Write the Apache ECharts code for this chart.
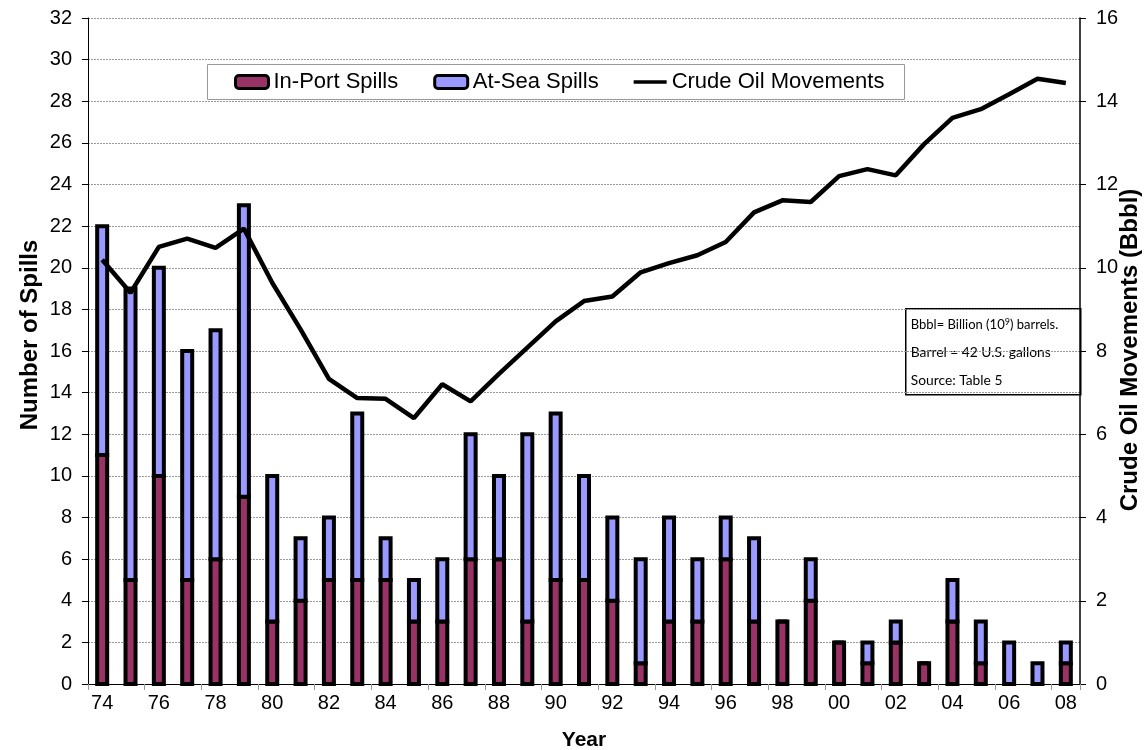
<!DOCTYPE html>
<html>
<head>
<meta charset="utf-8">
<script src="https://cdn.jsdelivr.net/npm/echarts@6/dist/echarts.min.js"></script>
<style>
  html, body { margin: 0; padding: 0; background: #fff; }
  #root { width: 1146px; height: 750px; }
</style>
</head>
<body>
<div id="root"></div>
<script>
// data
var years = ['74', '75', '76', '77', '78', '79', '80', '81', '82', '83', '84', '85',
  '86', '87', '88', '89', '90', '91', '92', '93', '94', '95', '96', '97', '98', '99',
  '00', '01', '02', '03', '04', '05', '06', '07', '08']
var inPort = [11, 5, 10, 5, 6, 9, 3, 4, 5, 5, 5, 3, 3, 6, 6, 3, 5, 5, 4, 1, 3, 3, 6, 3,
  3, 4, 2, 1, 2, 1, 3, 1, 0, 0, 1]
var atSea = [11, 14, 10, 11, 11, 14, 7, 3, 3, 8, 2, 2, 3, 6, 4, 9, 8, 5, 4, 5, 5, 3, 2, 4,
  0, 2, 0, 1, 1, 0, 2, 2, 2, 1, 1]
var crudeMoves = [10.19, 9.4, 10.5, 10.7, 10.48, 10.94, 9.64, 8.52, 7.33, 6.87, 6.85, 6.39,
  7.2, 6.79, 7.45, 8.08, 8.71, 9.2, 9.31, 9.89, 10.11, 10.3, 10.62, 11.33, 11.62, 11.58,
  12.2, 12.37, 12.22, 12.97, 13.6, 13.81, 14.17, 14.54, 14.44]

// stacked segments as [index, bottom, top]
var inPortSeg = inPort.map(function (v, i) { return [i, 0, v] })
var atSeaSeg = atSea.map(function (v, i) { return [i, inPort[i], inPort[i] + v] })

var chart = echarts.init(document.getElementById('root'))

var font = 'Liberation Sans, Arial, sans-serif'
var noteFont = 'Lato, Open Sans, sans-serif'

// bar segment with the outline centred on its edge (like the spreadsheet chart)
function segment (color) {
  return function (params, api) {
    var lo = api.coord([api.value(0), api.value(1)])
    var hi = api.coord([api.value(0), api.value(2)])
    var w = 10
    return {
      type: 'rect',
      shape: { x: lo[0] - w / 2, y: hi[1], width: w, height: lo[1] - hi[1] },
      style: { fill: color, stroke: '#000', lineWidth: 4 }
    }
  }
}

var option = {
  animation: false,
  textStyle: { fontFamily: font, color: '#000' },
  grid: { left: 88, right: 66, top: 18, bottom: 66, outerBoundsMode: 'none', containLabel: false },
  legend: {
    left: 234,
    top: 71,
    padding: 0,
    itemGap: 35,
    itemWidth: 33,
    itemHeight: 13,
    textStyle: { fontSize: 22, fontFamily: font, color: '#000' },
    data: [
      { name: 'In-Port Spills', itemStyle: { borderWidth: 3, borderColor: '#000' } },
      { name: 'At-Sea Spills', itemStyle: { borderWidth: 3, borderColor: '#000' } },
      { name: 'Crude Oil Movements', icon: 'path://M0,0 L0,0.01 M0,4.5 L38,4.5 L38,8.5 L0,8.5 Z M38,13 L38,12.99' }
    ]
  },
  xAxis: {
    type: 'category',
    data: years,
    name: 'Year',
    nameLocation: 'middle',
    nameGap: 46,
    nameTextStyle: { fontSize: 21, fontWeight: 'bold', fontFamily: font },
    axisLine: { lineStyle: { color: '#000', width: 1 } },
    axisTick: { show: true, length: 6, lineStyle: { color: '#999' } },
    axisLabel: { interval: 1, fontSize: 20, margin: 9, color: '#000' }
  },
  yAxis: [{
    type: 'value',
    min: 0,
    max: 32,
    interval: 2,
    axisLine: { show: true, lineStyle: { color: '#000', width: 1 } },
    axisTick: { show: true, length: 6, lineStyle: { color: '#000' } },
    axisLabel: { fontSize: 20, margin: 16, color: '#000' },
    splitLine: { lineStyle: { color: '#999', type: [2, 1], width: 1 } }
  }, {
    type: 'value',
    min: 0,
    max: 16,
    interval: 2,
    axisLine: { show: true, lineStyle: { color: '#000', width: 1.5 } },
    axisTick: { show: true, length: 6, lineStyle: { color: '#000' } },
    axisLabel: { fontSize: 20, margin: 16, color: '#000' },
    splitLine: { show: false }
  }],
  series: [{
    name: 'In-Port Spills',
    type: 'custom',
    renderItem: segment('#993366'),
    encode: { x: 0, y: [1, 2] },
    data: inPortSeg,
    itemStyle: { color: '#993366' },
    z: 2
  }, {
    name: 'At-Sea Spills',
    type: 'custom',
    renderItem: segment('#9999ff'),
    encode: { x: 0, y: [1, 2] },
    data: atSeaSeg,
    itemStyle: { color: '#9999ff' },
    z: 2
  }, {
    name: 'Crude Oil Movements',
    type: 'line',
    yAxisIndex: 1,
    data: crudeMoves,
    symbol: 'none',
    showSymbol: false,
    z: 5,
    lineStyle: { color: '#000', width: 4.5 },
    itemStyle: { color: '#000' }
  }],
  graphic: [{
    type: 'rect',
    left: 207,
    top: 64,
    shape: { width: 697, height: 35 },
    style: { fill: 'rgba(255,255,255,0)', stroke: '#999', lineWidth: 1 },
    z: -1
  }, {
    type: 'text',
    x: 30,
    y: 335,
    rotation: Math.PI / 2,
    style: { text: 'Number of Spills', fontSize: 24, fontWeight: 'bold', fontFamily: font, fill: '#000', align: 'center', verticalAlign: 'middle' }
  }, {
    type: 'text',
    x: 1130,
    y: 350,
    rotation: Math.PI / 2,
    style: { text: 'Crude Oil Movements (Bbbl)', fontSize: 24, fontWeight: 'bold', fontFamily: font, fill: '#000', align: 'center', verticalAlign: 'middle' }
  }, {
    type: 'group',
    left: 905,
    top: 308,
    z: 10,
    children: [{
      type: 'rect',
      shape: { x: 0, y: 0, width: 175, height: 86 },
      style: { fill: '#fff', stroke: '#000', lineWidth: 1.5 }
    }, {
      type: 'text',
      x: 5,
      y: 16,
      style: {
        text: '{n|Bbbl= Billion (10}{s|9}{n|) barrels.}',
        verticalAlign: 'middle',
        rich: {
          n: { fontSize: 13, fontFamily: noteFont, fill: '#000' },
          s: { fontSize: 9, fontFamily: noteFont, fill: '#000', verticalAlign: 'top', padding: [0, 0, 6, 0] }
        }
      }
    }, {
      type: 'text',
      x: 5,
      y: 44,
      style: { text: 'Barrel = 42 U.S. gallons', fontSize: 13.8, fontFamily: noteFont, fill: '#000', verticalAlign: 'middle' }
    }, {
      type: 'text',
      x: 5,
      y: 72,
      style: { text: 'Source: Table 5', fontSize: 13.8, fontFamily: noteFont, fill: '#000', verticalAlign: 'middle' }
    }]
  }]
}

chart.setOption(option)
</script>
</body>
</html>
